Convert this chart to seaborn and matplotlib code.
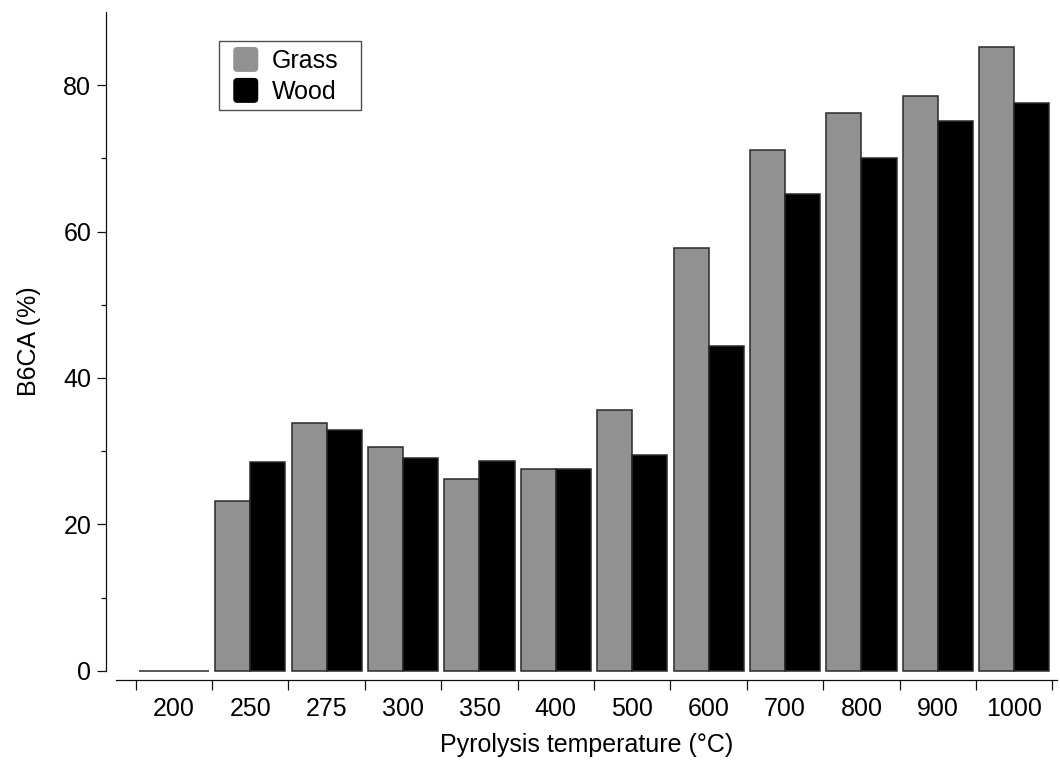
import numpy as np
import pandas as pd
import matplotlib
matplotlib.use("Agg")
import matplotlib.pyplot as plt
import seaborn as sns
from matplotlib.patches import FancyBboxPatch, Patch
from matplotlib.legend_handler import HandlerPatch
from matplotlib.ticker import FixedLocator

# B6CA share by pyrolysis temperature for two biomass sources
temperatures = ["200", "250", "275", "300", "350", "400", "500",
                "600", "700", "800", "900", "1000"]
grass = [0, 23.2, 33.8, 30.6, 26.2, 27.6, 35.6, 57.8, 71.1, 76.2, 78.5, 85.2]
wood = [0, 28.5, 32.9, 29.1, 28.7, 27.6, 29.5, 44.3, 65.1, 70.1, 75.1, 77.6]
series = ["Grass", "Wood"]
colors = ["#919191", "#000000"]

df = pd.DataFrame({
    "temperature": temperatures * 2,
    "value": grass + wood,
    "source": [series[0]] * len(grass) + [series[1]] * len(wood),
})

sns.set_theme(style="ticks")
plt.rcParams["font.family"] = ["Liberation Sans", "DejaVu Sans"]
plt.rcParams["axes.edgecolor"] = "#111111"
plt.rcParams["axes.labelcolor"] = "black"
plt.rcParams["text.color"] = "black"
plt.rcParams["xtick.color"] = "#111111"
plt.rcParams["ytick.color"] = "#111111"
plt.rcParams["xtick.labelcolor"] = "black"
plt.rcParams["ytick.labelcolor"] = "black"

W, H = 1060, 760
fig = plt.figure(figsize=(W / 100, H / 100), dpi=100)
ax = fig.add_axes([116 / W, 1 - 670.7 / H, (1057 - 116) / W, (670.7 - 12) / H])

sns.barplot(data=df, x="temperature", y="value", hue="source",
            order=temperatures, hue_order=series, palette=colors,
            saturation=1, width=0.92, edgecolor="#2a2a2a", linewidth=1.1,
            legend=False, ax=ax)
# let zero-height bars show their full outline on the baseline
for bar in ax.patches:
    bar.set_clip_on(False)

ax.set_ylim(0, 90)
ax.set_xlim(-0.758, 11.56)

for side in ("top", "right"):
    ax.spines[side].set_visible(False)
ax.spines["left"].set_position(("outward", 7.2))
ax.spines["bottom"].set_position(("outward", 6.7))
ax.spines["left"].set_bounds(0, 90)
for side in ("left", "bottom"):
    ax.spines[side].set_linewidth(0.9)

# y axis: labelled every 20, minor ticks in between
ax.set_yticks([0, 20, 40, 60, 80])
ax.yaxis.set_minor_locator(FixedLocator([10, 30, 50, 70]))
ax.tick_params(axis="y", which="major", length=6.7, width=0.9,
               labelsize=18, pad=4)
ax.tick_params(axis="y", which="minor", length=3.6, width=0.9)

# x axis: labels centred on categories, ticks on category boundaries
ax.set_xticks(range(len(temperatures)))
ax.set_xticklabels(temperatures)
ax.xaxis.set_minor_locator(FixedLocator(np.arange(-0.5, len(temperatures), 1.0)))
ax.tick_params(axis="x", which="major", length=0, labelsize=18, pad=12)
ax.tick_params(axis="x", which="minor", length=7.2, width=0.9)

ax.set_xlabel("Pyrolysis temperature (°C)", fontsize=18, labelpad=9)
ax.set_ylabel("B6CA (%)", fontsize=18, labelpad=16)


class RoundedSwatch(HandlerPatch):
    """Square swatch with rounded corners, right-aligned in the handle box."""

    def create_artists(self, legend, orig_handle, xdescent, ydescent,
                       width, height, fontsize, trans):
        side = height
        p = FancyBboxPatch((-xdescent + width - side, -ydescent), side, side,
                           boxstyle="round,pad=0,rounding_size=3",
                           facecolor=orig_handle.get_facecolor(),
                           edgecolor="none", transform=trans)
        return [p]


handles = [Patch(facecolor=c) for c in colors]
leg_top, leg_bottom = 1 - 40.7 / H, 1 - 109 / H
leg = fig.legend(handles, series, loc="upper left",
                 bbox_to_anchor=(219 / W, leg_bottom, 142 / W, leg_top - leg_bottom),
                 bbox_transform=fig.transFigure, borderaxespad=0, mode="expand",
                 frameon=True, fancybox=False, edgecolor="#222222",
                 fontsize=18, handlelength=1.32, handleheight=1.16,
                 handletextpad=0.55, borderpad=0.25, labelspacing=0.2,
                 handler_map={Patch: RoundedSwatch()})
leg.get_frame().set_linewidth(1.0)

fig.savefig("out.png", dpi=100, facecolor="white")
